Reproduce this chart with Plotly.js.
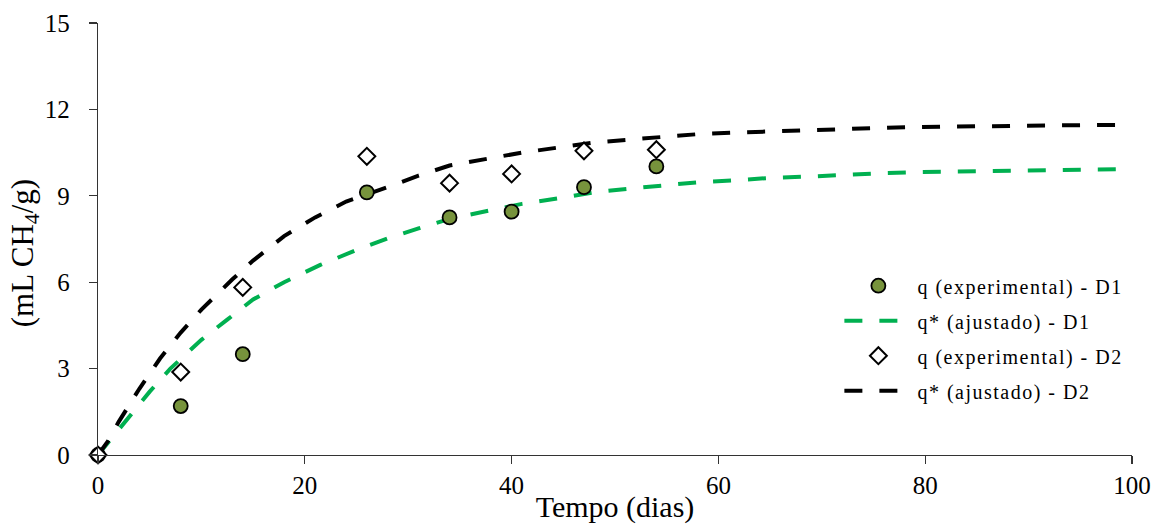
<!DOCTYPE html>
<html>
<head>
<meta charset="utf-8">
<script src="https://cdn.plot.ly/plotly-3.0.1.min.js"></script>
<style>
  html, body { margin: 0; padding: 0; background: #fff; }
  #chart { width: 1161px; height: 524px; }
  #chart .legendtext { letter-spacing: 1.5px; }
  #chart .legend .scrollbox { clip-path: none !important; }
</style>
</head>
<body>
<div id="chart"></div>
<script>
// Measured cumulative methane yield (mL CH4/g) per sampling day
const daysExp = [0, 8, 14, 26, 34, 40, 47, 54];
const qExpD1 = [0, 1.7, 3.5, 9.12, 8.25, 8.45, 9.3, 10.02];
const qExpD2 = [0, 2.88, 5.82, 10.37, 9.44, 9.76, 10.56, 10.6];

// Fitted curves (q*) for each digester
const daysFitD1 = [0, 1, 3, 5, 7, 10, 12.5, 15, 18, 21.5, 25, 28, 31, 34, 38, 41, 45, 48, 52, 55, 58, 62, 65, 69, 72, 76, 79, 83, 86, 90, 93, 97, 100];
const qFitD1 = [0, 0.45, 1.35, 2.2, 3.0, 4.0, 4.7, 5.4, 6.0, 6.6, 7.12, 7.52, 7.87, 8.2, 8.5, 8.72, 8.94, 9.12, 9.27, 9.37, 9.47, 9.55, 9.62, 9.67, 9.73, 9.79, 9.82, 9.84, 9.86, 9.89, 9.91, 9.92, 9.93];
const daysFitD2 = [0, 1, 2, 4, 6, 8, 10, 13, 15, 18, 21, 24, 28, 31, 34, 38, 41, 45, 48, 52, 55, 58, 62, 65, 69, 72, 76, 79, 83, 86, 90, 93, 97, 100];
const qFitD2 = [0, 0.5, 1.15, 2.3, 3.35, 4.25, 5.05, 6.1, 6.75, 7.6, 8.25, 8.8, 9.3, 9.7, 10.05, 10.3, 10.5, 10.7, 10.85, 10.97, 11.07, 11.14, 11.2, 11.24, 11.28, 11.32, 11.36, 11.39, 11.41, 11.42, 11.44, 11.45, 11.46, 11.46];

const xTicks = [0, 20, 40, 60, 80, 100];
const yTicks = [0, 3, 6, 9, 12, 15];

const serif = 'Liberation Serif';
const dashStyle = '18px,17px';

const traces = [
  {
    x: daysFitD1, y: qFitD1, mode: 'lines', name: 'q* (ajustado) - D1',
    line: { color: '#00B050', width: 4, dash: dashStyle },
    legendrank: 2, legendgroup: 'b'
  },
  {
    x: daysFitD2, y: qFitD2, mode: 'lines', name: 'q* (ajustado) - D2',
    line: { color: '#000000', width: 4, dash: dashStyle },
    legendrank: 4, legendgroup: 'd'
  },
  {
    x: daysExp, y: qExpD1, mode: 'markers', name: 'q (experimental) - D1',
    marker: { symbol: 'circle', size: 14, color: '#77933C', line: { color: '#000', width: 1.8 } },
    cliponaxis: false, legendrank: 1, legendgroup: 'a'
  },
  {
    x: daysExp, y: qExpD2, mode: 'markers', name: 'q (experimental) - D2',
    marker: { symbol: 'diamond', size: 13, color: '#ffffff', line: { color: '#000', width: 2 } },
    cliponaxis: false, legendrank: 3, legendgroup: 'c'
  }
];

const layout = {
  width: 1161, height: 524,
  margin: { l: 98, r: 29, t: 23, b: 69 },
  paper_bgcolor: '#fff', plot_bgcolor: '#fff',
  font: { family: serif, color: '#000', size: 20 },
  showlegend: true,
  legend: {
    x: 0.717, y: 0.437, xanchor: 'left', yanchor: 'top',
    font: { family: serif, size: 20, color: '#000' },
    itemwidth: 68,
    tracegroupgap: 6, bgcolor: 'rgba(0,0,0,0)'
  },
  xaxis: {
    range: [0, 100], tickvals: xTicks, ticktext: xTicks.map(String),
    showline: true, linecolor: '#333', linewidth: 1.3,
    ticks: 'outside', ticklen: 8, tickcolor: '#333', tickwidth: 1.3,
    showgrid: false, zeroline: false,
    tickfont: { family: serif, size: 25 },
    title: { text: 'Tempo (dias)', font: { family: serif, size: 30 }, standoff: 6 }
  },
  yaxis: {
    range: [0, 15], tickvals: yTicks, ticktext: yTicks.map(String),
    showline: true, linecolor: '#333', linewidth: 1.3,
    ticks: 'outside', ticklen: 8, tickcolor: '#333', tickwidth: 1.3,
    showgrid: false, zeroline: false,
    tickfont: { family: serif, size: 25 },
    ticklabelstandoff: 14
  },
  // y-axis label, set slightly below the middle of the axis
  annotations: [{
    text: '(mL CH<sub>4</sub>/g)', textangle: -90,
    xref: 'paper', yref: 'paper', x: -0.0706, y: 0.467,
    xanchor: 'center', yanchor: 'middle', showarrow: false,
    font: { family: serif, size: 31, color: '#000' }
  }]
};

Plotly.newPlot('chart', traces, layout, { staticPlot: true, displayModeBar: false });
</script>
</body>
</html>
